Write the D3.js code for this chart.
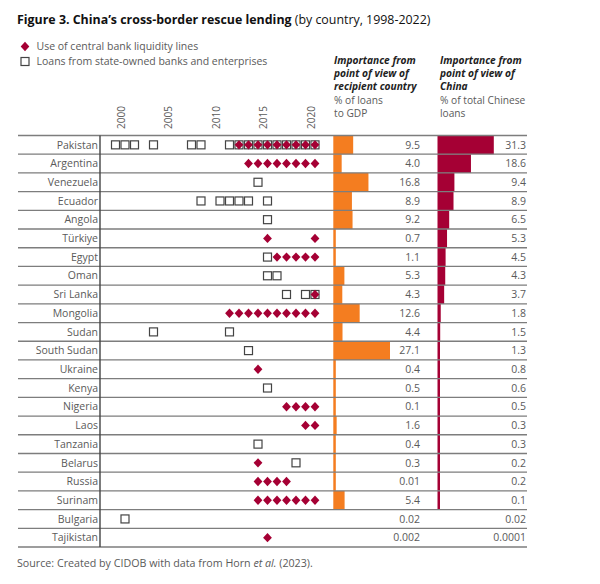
<!DOCTYPE html>
<html><head><meta charset="utf-8">
<script src="https://cdn.jsdelivr.net/npm/d3@7"></script>
<style>
html,body{margin:0;padding:0;background:#fff;}
svg{display:block;font-family:"Open Sans",sans-serif;}
</style></head>
<body>
<svg id="chart" width="600" height="584"></svg>
<script>
const countries = ["Pakistan","Argentina","Venezuela","Ecuador","Angola","Türkiye","Egypt","Oman","Sri Lanka","Mongolia","Sudan","South Sudan","Ukraine","Kenya","Nigeria","Laos","Tanzania","Belarus","Russia","Surinam","Bulgaria","Tajikistan"];

// years with state-owned bank / enterprise loans (squares)
const loanYears = [
  [2000,2001,2002,2004,2008,2009,2012,2013,2014,2015,2016,2017,2018,2019,2020,2021],
  [],
  [2015],
  [2009,2011,2012,2013,2014,2016],
  [2016],
  [],
  [2016],
  [2016,2017],
  [2018,2020,2021],
  [],
  [2004,2012],
  [2014],
  [],
  [2016],
  [],
  [],
  [2015],
  [2019],
  [],
  [],
  [2001],
  []
];

// years with central bank liquidity lines (diamonds)
const swapYears = [
  [2013,2014,2015,2016,2017,2018,2019,2020,2021],
  [2014,2015,2016,2017,2018,2019,2020,2021],
  [],
  [],
  [],
  [2016,2021],
  [2017,2018,2019,2020,2021],
  [],
  [2021],
  [2012,2013,2014,2015,2016,2017,2018,2019,2020,2021],
  [],
  [],
  [2015],
  [],
  [2018,2019,2020,2021],
  [2020,2021],
  [],
  [2015],
  [2015,2016,2017,2018],
  [2015,2016,2017,2018,2019,2020,2021],
  [],
  [2016]
];

const recipientPct = [9.5,4.0,16.8,8.9,9.2,0.7,1.1,5.3,4.3,12.6,4.4,27.1,0.4,0.5,0.1,1.6,0.4,0.3,0.01,5.4,0.02,0.002];
const recipientLabels = ["9.5","4.0","16.8","8.9","9.2","0.7","1.1","5.3","4.3","12.6","4.4","27.1","0.4","0.5","0.1","1.6","0.4","0.3","0.01","5.4","0.02","0.002"];
const chinaPct = [31.3,18.6,9.4,8.9,6.5,5.3,4.5,4.3,3.7,1.8,1.5,1.3,0.8,0.6,0.5,0.3,0.3,0.2,0.2,0.1,0.02,0.0001];
const chinaLabels = ["31.3","18.6","9.4","8.9","6.5","5.3","4.5","4.3","3.7","1.8","1.5","1.3","0.8","0.6","0.5","0.3","0.3","0.2","0.2","0.1","0.02","0.0001"];
const noBar = ["Bulgaria","Tajikistan"];
const yearTicks = [2000,2005,2010,2015,2020];

const ORANGE = "#F47D20", CRIMSON = "#A50034", GREY = "#5a5a5a";

const svg = d3.select("#chart");

// Title
const title = svg.append("text").attr("x",17).attr("y",23.5)
  .attr("font-size",12.4).attr("fill","#111");
title.append("tspan").attr("font-weight","bold").text("Figure 3. China’s cross-border rescue lending");
title.append("tspan").text(" (by country, 1998-2022)");

// Legend
const leg = svg.append("g");
leg.append("path").attr("d","M25,41.8 L29.3,46.5 L25,51.2 L20.7,46.5 Z").attr("fill",CRIMSON);
leg.append("text").attr("x",36.5).attr("y",50.2).attr("font-size",10.5).attr("fill",GREY)
  .text("Use of central bank liquidity lines");
leg.append("rect").attr("x",21).attr("y",57.5).attr("width",8).attr("height",8)
  .attr("fill","#fff").attr("stroke","#444").attr("stroke-width",1.2);
leg.append("text").attr("x",36.5).attr("y",65.4).attr("font-size",10.5).attr("fill",GREY)
  .text("Loans from state-owned banks and enterprises");

// Column headers
function header(x, boldLines, normLines){
  const g = svg.append("g");
  let y = 64;
  boldLines.forEach(t=>{
    g.append("text").attr("x",x).attr("y",y).attr("font-size",10.2)
      .attr("font-weight","bold").attr("font-style","italic").attr("fill","#222").text(t);
    y += 13.2;
  });
  normLines.forEach(t=>{
    g.append("text").attr("x",x).attr("y",y).attr("font-size",10.2)
      .attr("fill",GREY).text(t);
    y += 13.2;
  });
}
header(334,["Importance from","point of view of","recipient country"],["% of loans","to GDP"]);
header(440,["Importance from","point of view of","China"],["% of total Chinese","loans"]);

// Scales
const y = d3.scaleBand().domain(countries).range([135.5,547]).padding(0);
const x = d3.scaleLinear().domain([2000,2021]).range([115.5,315]);
const xr = d3.scaleLinear().domain([0,27.1]).range([333.3,390]);
const xc = d3.scaleLinear().domain([0,31.3]).range([437.5,493.8]);

// Year axis labels (rotated)
const yearAxis = d3.axisTop(d3.scaleLinear().domain(x.domain()).range(x.range().map(v=>v+5)))
  .tickValues(yearTicks).tickFormat(d3.format("d")).tickSize(0);
const ya = svg.append("g").attr("transform","translate(0,129)").call(yearAxis);
ya.select(".domain").remove();
ya.selectAll("text")
  .attr("transform","rotate(-90)")
  .attr("x",0).attr("y",0).attr("dy","0.35em")
  .attr("text-anchor","start")
  .attr("font-size",10).attr("font-family","Open Sans, sans-serif").attr("fill",GREY);

// Bars
const rows = countries.map((c,i)=>({c,i}));
svg.append("g").selectAll("rect").data(rows.filter(d=>!noBar.includes(d.c))).join("rect")
  .attr("x",xr(0)).attr("y",d=>y(d.c)).attr("height",y.bandwidth())
  .attr("width",d=>Math.max(2.5, xr(recipientPct[d.i])-xr(0)))
  .attr("fill",ORANGE);
svg.append("g").selectAll("rect").data(rows.filter(d=>!noBar.includes(d.c))).join("rect")
  .attr("x",xc(0)).attr("y",d=>y(d.c)).attr("height",y.bandwidth())
  .attr("width",d=>Math.max(2.5, xc(chinaPct[d.i])-xc(0)))
  .attr("fill",CRIMSON);

// Row lines
const lines = svg.append("g");
const bounds = countries.map(c=>y(c)).concat([y.range()[1]]);
lines.selectAll("line").data(bounds).join("line")
  .attr("x1",18).attr("x2",527).attr("y1",d=>d).attr("y2",d=>d)
  .attr("stroke","#7d7d7d").attr("stroke-width",1.3);
svg.append("line").attr("x1",100).attr("x2",100).attr("y1",y.range()[0]).attr("y2",y.range()[1])
  .attr("stroke","#444").attr("stroke-width",1.4);

// Country labels
svg.append("g").selectAll("text").data(countries).join("text")
  .attr("x",98).attr("y",d=>y(d)+y.bandwidth()/2).attr("dy","0.35em")
  .attr("text-anchor","end").attr("font-size",10.5).attr("fill",GREY).text(d=>d);

// Value labels
svg.append("g").selectAll("text").data(rows).join("text")
  .attr("x",420).attr("y",d=>y(d.c)+y.bandwidth()/2).attr("dy","0.35em")
  .attr("text-anchor","end").attr("font-size",10.5).attr("fill",GREY).text(d=>recipientLabels[d.i]);
svg.append("g").selectAll("text").data(rows).join("text")
  .attr("x",526).attr("y",d=>y(d.c)+y.bandwidth()/2).attr("dy","0.35em")
  .attr("text-anchor","end").attr("font-size",10.5).attr("fill",GREY).text(d=>chinaLabels[d.i]);

// Squares
const sq = rows.flatMap(d=>loanYears[d.i].map(yr=>({c:d.c,yr})));
svg.append("g").selectAll("rect").data(sq).join("rect")
  .attr("x",d=>x(d.yr)-4).attr("y",d=>y(d.c)+y.bandwidth()/2-4)
  .attr("width",8).attr("height",8)
  .attr("fill","#fff").attr("stroke","#444").attr("stroke-width",1.2);

// Diamonds
const dm = rows.flatMap(d=>swapYears[d.i].map(yr=>({c:d.c,yr})));
svg.append("g").selectAll("path").data(dm).join("path")
  .attr("transform",d=>`translate(${x(d.yr)},${y(d.c)+y.bandwidth()/2})`)
  .attr("d","M0,-4.7 L4.4,0 L0,4.7 L-4.4,0 Z").attr("fill",CRIMSON);

// Source
const src = svg.append("text").attr("x",17).attr("y",566.5).attr("font-size",10.7).attr("fill",GREY);
src.append("tspan").text("Source: Created by CIDOB with data from Horn ");
src.append("tspan").attr("font-style","italic").text("et al.");
src.append("tspan").text(" (2023).");
</script>
</body></html>
